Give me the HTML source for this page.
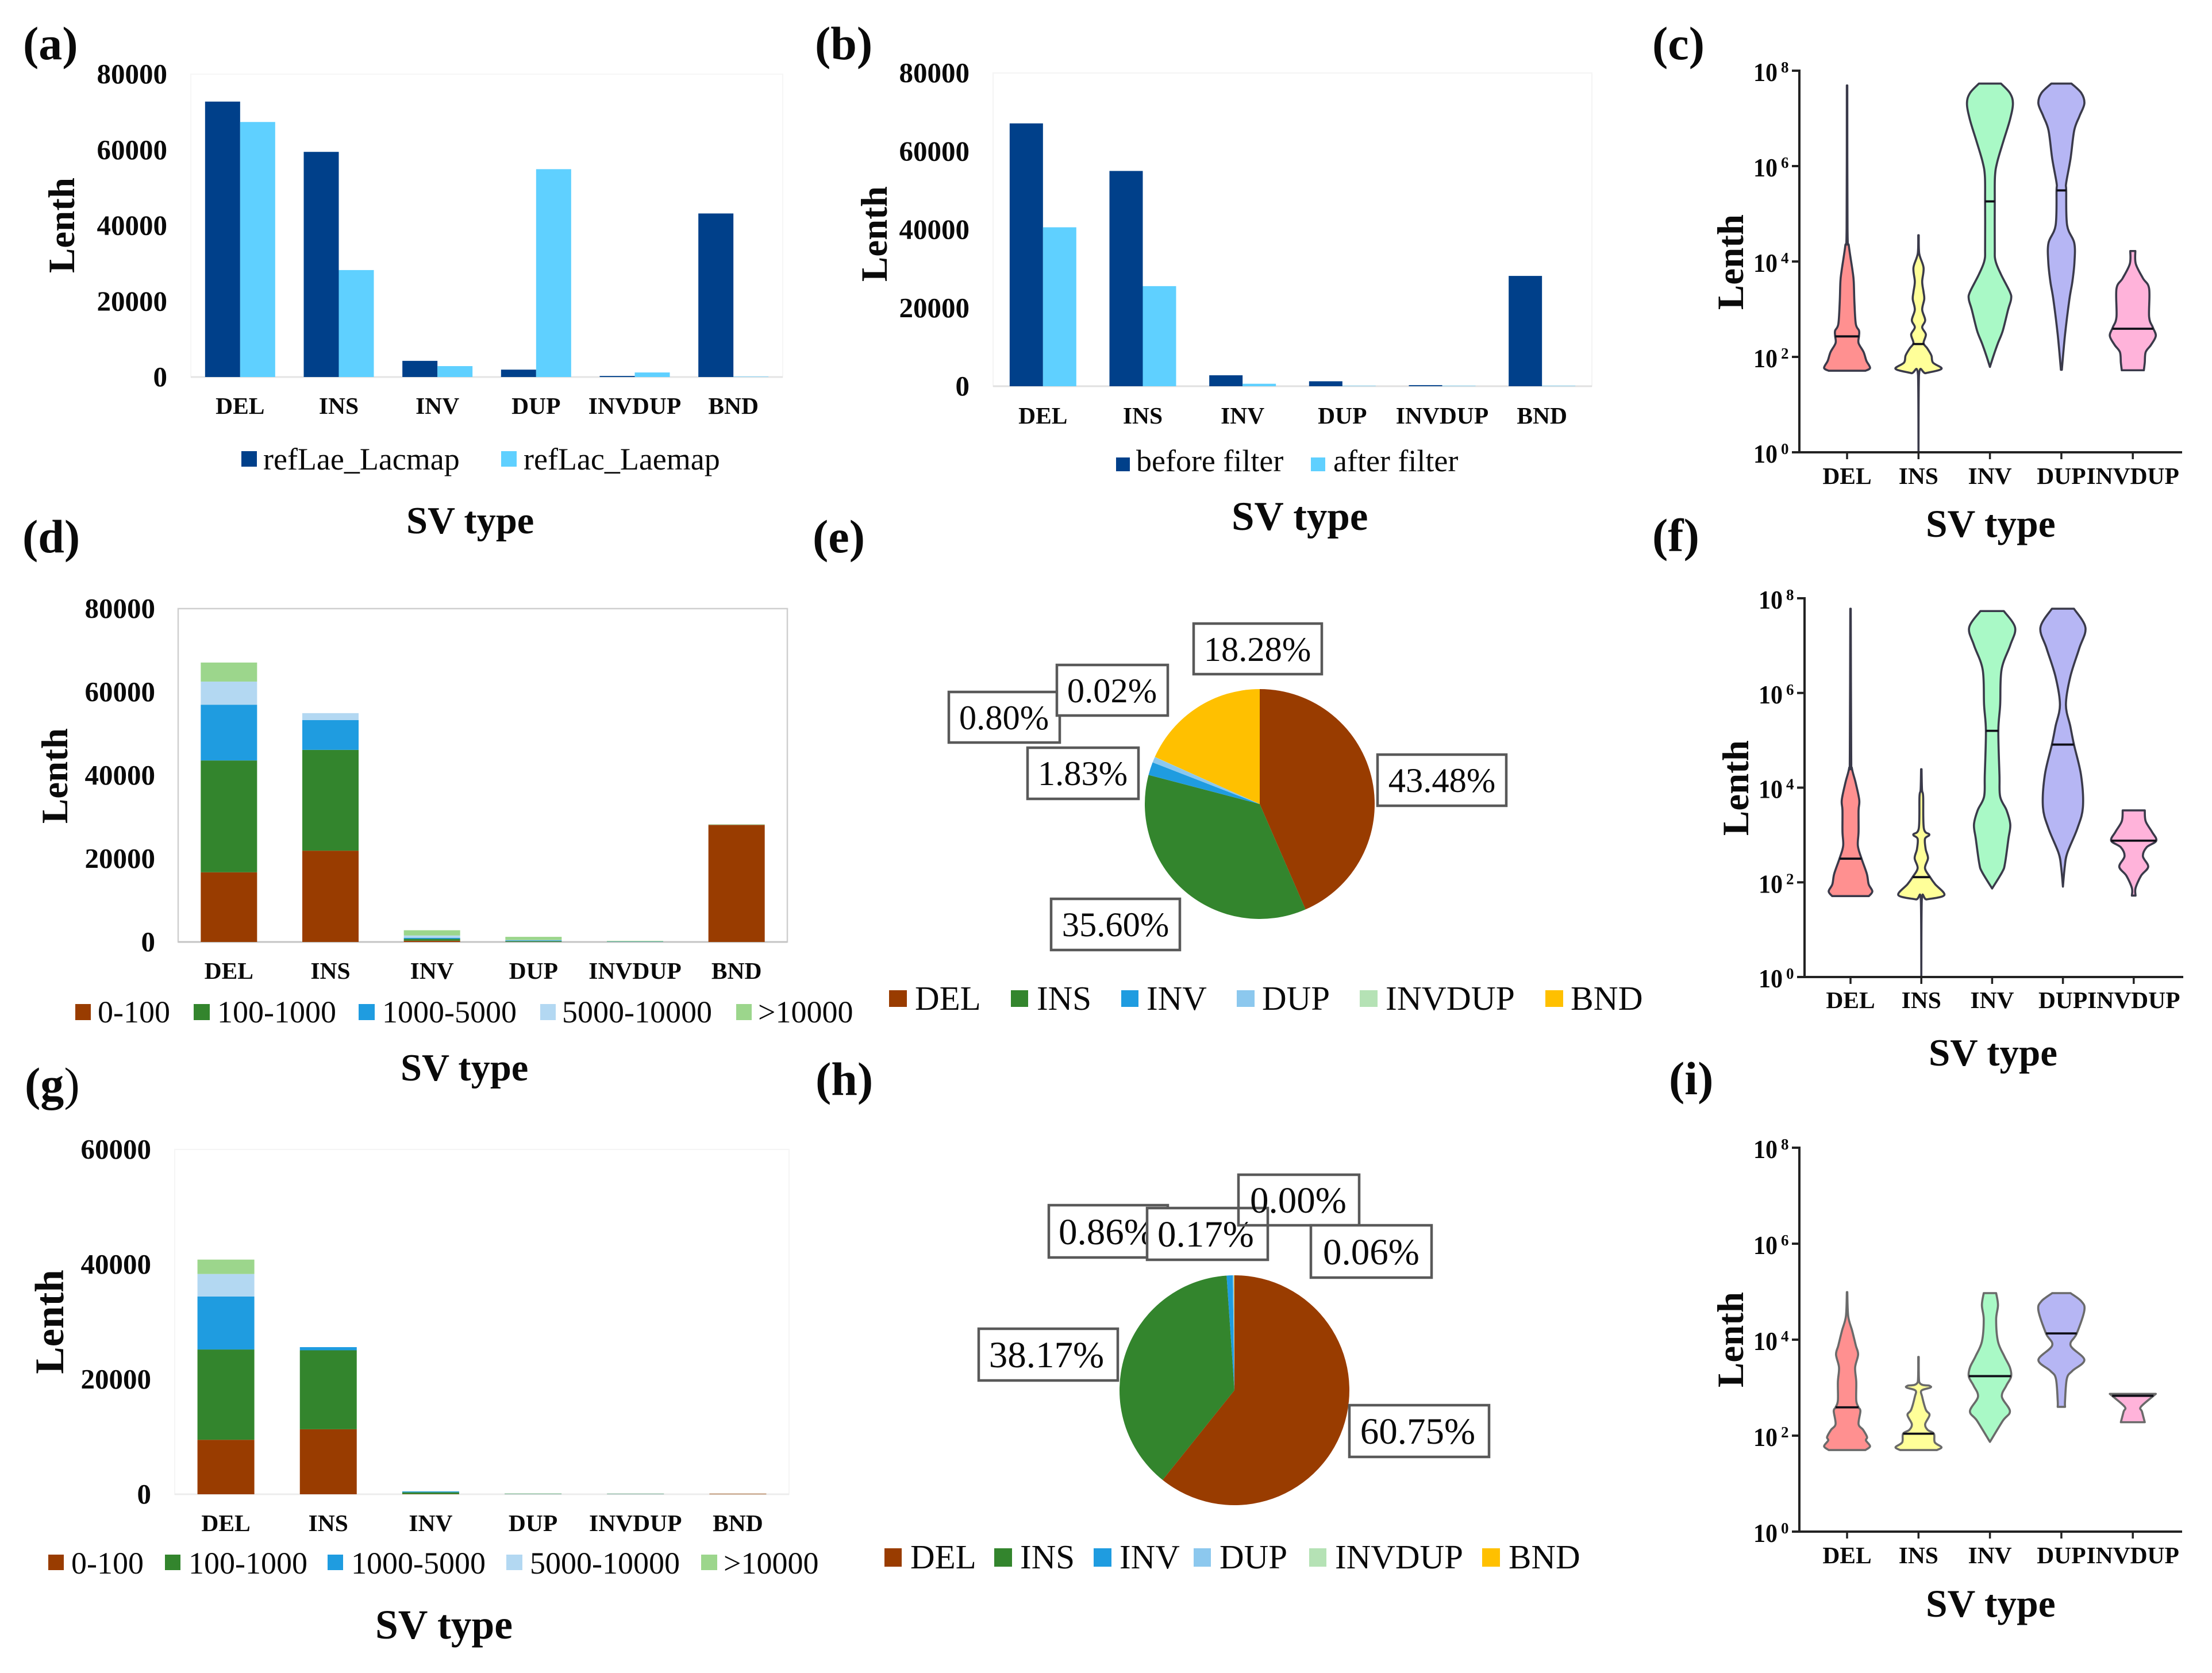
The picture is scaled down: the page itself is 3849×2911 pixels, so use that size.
<!DOCTYPE html>
<html lang="en">
<head>
<meta charset="utf-8">
<title>SV length and type panels</title>
<style>
html,body{margin:0;padding:0;background:#fff;}
svg{display:block;}
text{font-family:"Liberation Serif",serif;fill:#0a0a0a;}
.pl{font-size:82px;font-weight:bold;}
.yt{font-size:65px;font-weight:bold;text-anchor:middle;}
.xt{font-weight:bold;}
.lg{font-size:54px;}
.box{fill:#fff;stroke:#595959;stroke-width:4.5;}
.bt{text-anchor:middle;}
</style>
</head>
<body>
<svg id="figure" xmlns="http://www.w3.org/2000/svg" width="3849" height="2911" viewBox="0 0 3849 2911">
<rect x="0" y="0" width="3849" height="2911" fill="#fff"/>

<g id="panel-a"></g>
<g id="panel-b"></g>
<g id="panel-c"></g>
<g id="panel-d"></g>
<g id="panel-e"></g>
<g id="panel-f"></g>
<g id="panel-g"></g>
<g id="panel-h"></g>
<g id="panel-i"></g>

<!-- panel letters -->
<text class="pl" x="40" y="103">(a)</text>
<text class="pl" x="1418" y="103">(b)</text>
<text class="pl" x="2875" y="103">(c)</text>
<text class="pl" x="39" y="961">(d)</text>
<text class="pl" x="1414" y="961">(e)</text>
<text class="pl" x="2875" y="959">(f)</text>
<text class="pl" x="43" y="1914">(g<tspan font-weight="normal">)</tspan></text>
<text class="pl" x="1419" y="1905">(h)</text>
<text class="pl" x="2904" y="1904">(i)</text>

<!-- y-axis titles -->
<text class="yt" transform="translate(129 392) rotate(-90)">Lenth</text>
<text class="yt" transform="translate(1543 407) rotate(-90)">Lenth</text>
<text class="yt" transform="translate(3033 456) rotate(-90)">Lenth</text>
<text class="yt" transform="translate(117 1350) rotate(-90)">Lenth</text>
<text class="yt" transform="translate(3042 1371) rotate(-90)">Lenth</text>
<text class="yt" style="font-size:71px" transform="translate(110 2300) rotate(-90)">Lenth</text>
<text class="yt" transform="translate(3033 2331) rotate(-90)">Lenth</text>

<!-- x-axis titles -->
<text class="xt" x="707" y="928" font-size="66.5">SV type</text>
<text class="xt" x="2143" y="922" font-size="71">SV type</text>
<text class="xt" x="3351" y="934" font-size="67.5">SV type</text>
<text class="xt" x="697" y="1880" font-size="66.5">SV type</text>
<text class="xt" x="3356" y="1854" font-size="67">SV type</text>
<text class="xt" x="653" y="2851" font-size="71.5">SV type</text>
<text class="xt" x="3351" y="2813" font-size="67.5">SV type</text>

<!-- legend a -->
<g>
<rect x="420" y="785" width="27" height="27" fill="#00408a"/>
<text class="lg" x="458" y="817">refLae_Lacmap</text>
<rect x="872" y="785" width="27" height="27" fill="#5fd0ff"/>
<text class="lg" x="911" y="817">refLac_Laemap</text>
</g>
<!-- legend b -->
<g>
<rect x="1942" y="796" width="24" height="24" fill="#00408a"/>
<text class="lg" style="font-size:54px" x="1977" y="820">before filter</text>
<rect x="2281" y="796" width="25" height="24" fill="#5fd0ff"/>
<text class="lg" style="font-size:54px" x="2320" y="820">after filter</text>
</g>
<!-- legend d -->
<g>
<rect x="131" y="1747" width="27" height="28" fill="#993c00"/>
<text class="lg" x="170" y="1779">0-100</text>
<rect x="337" y="1747" width="28" height="28" fill="#33852d"/>
<text class="lg" x="378" y="1779">100-1000</text>
<rect x="624" y="1747" width="28" height="28" fill="#1f9ce0"/>
<text class="lg" x="665" y="1779">1000-5000</text>
<rect x="940" y="1747" width="27" height="28" fill="#b3d8f2"/>
<text class="lg" x="978" y="1779">5000-10000</text>
<rect x="1281" y="1747" width="27" height="28" fill="#9cd68c"/>
<text class="lg" x="1319" y="1779">&gt;10000</text>
</g>
<!-- legend g -->
<g>
<rect x="84" y="2705" width="27" height="27" fill="#993c00"/>
<text class="lg" x="124" y="2738">0-100</text>
<rect x="287" y="2705" width="27" height="27" fill="#33852d"/>
<text class="lg" x="328" y="2738">100-1000</text>
<rect x="570" y="2705" width="27" height="27" fill="#1f9ce0"/>
<text class="lg" x="611" y="2738">1000-5000</text>
<rect x="881" y="2705" width="28" height="27" fill="#b3d8f2"/>
<text class="lg" x="922" y="2738">5000-10000</text>
<rect x="1220" y="2705" width="28" height="27" fill="#9cd68c"/>
<text class="lg" x="1259" y="2738">&gt;10000</text>
</g>
<!-- legend e -->
<g>
<rect x="1547" y="1723" width="31" height="29" fill="#993c00"/>
<text class="lg" style="font-size:59px" x="1592" y="1757">DEL</text>
<rect x="1759" y="1723" width="30" height="29" fill="#33852d"/>
<text class="lg" style="font-size:59px" x="1804" y="1757">INS</text>
<rect x="1951" y="1723" width="30" height="29" fill="#1f9ce0"/>
<text class="lg" style="font-size:59px" x="1995" y="1757">INV</text>
<rect x="2152" y="1723" width="31" height="29" fill="#8cc8ee"/>
<text class="lg" style="font-size:59px" x="2196" y="1757">DUP</text>
<rect x="2366" y="1723" width="31" height="29" fill="#b5e2b5"/>
<text class="lg" style="font-size:59.5px" x="2411" y="1757">INVDUP</text>
<rect x="2689" y="1723" width="31" height="29" fill="#ffc000"/>
<text class="lg" style="font-size:59.5px" x="2733" y="1757">BND</text>
</g>
<!-- legend h -->
<g>
<rect x="1539" y="2694" width="30" height="32" fill="#993c00"/>
<text class="lg" style="font-size:59px" x="1584" y="2729">DEL</text>
<rect x="1730" y="2694" width="31" height="32" fill="#33852d"/>
<text class="lg" style="font-size:59px" x="1775" y="2729">INS</text>
<rect x="1903" y="2694" width="31" height="32" fill="#1f9ce0"/>
<text class="lg" style="font-size:59px" x="1948" y="2729">INV</text>
<rect x="2077" y="2694" width="30" height="32" fill="#8cc8ee"/>
<text class="lg" style="font-size:59px" x="2122" y="2729">DUP</text>
<rect x="2278" y="2694" width="30" height="32" fill="#b5e2b5"/>
<text class="lg" style="font-size:59px" x="2323" y="2729">INVDUP</text>
<rect x="2579" y="2694" width="31" height="32" fill="#ffc000"/>
<text class="lg" style="font-size:59px" x="2625" y="2729">BND</text>
</g>

<!-- pie e value boxes -->
<g>
<rect class="box" x="2077" y="1085" width="223" height="88"/>
<text id="pie-e-label-5" class="bt" x="2188" y="1150" font-size="60.5">18.28%</text>
<rect class="box" x="1651" y="1204" width="193" height="88"/>
<text id="pie-e-label-3" class="bt" x="1747" y="1269" font-size="60.5">0.80%</text>
<rect class="box" x="1839" y="1157" width="193" height="88"/>
<text id="pie-e-label-4" class="bt" x="1935" y="1222" font-size="60.5">0.02%</text>
<rect class="box" x="1788" y="1301" width="193" height="89"/>
<text id="pie-e-label-2" class="bt" x="1884" y="1366" font-size="60.5">1.83%</text>
<rect class="box" x="2397" y="1313" width="224" height="89"/>
<text id="pie-e-label-0" class="bt" x="2509" y="1378" font-size="60.5">43.48%</text>
<rect class="box" x="1829" y="1564" width="224" height="89"/>
<text id="pie-e-label-1" class="bt" x="1941" y="1629" font-size="60.5">35.60%</text>
</g>
<!-- pie h value boxes -->
<g>
<rect class="box" x="1825" y="2097" width="207" height="91"/>
<text id="pie-h-label-2" class="bt" x="1926" y="2165" font-size="65">0.86%</text>
<rect class="box" x="1996" y="2102" width="210" height="90"/>
<text id="pie-h-label-3" class="bt" x="2098" y="2169" font-size="65">0.17%</text>
<rect class="box" style="fill:none" x="2155" y="2044" width="210" height="88"/>
<text id="pie-h-label-4" class="bt" x="2259" y="2110" font-size="65">0.00%</text>
<rect class="box" x="2281" y="2132" width="210" height="91"/>
<text id="pie-h-label-5" class="bt" x="2386" y="2200" font-size="65">0.06%</text>
<rect class="box" x="1703" y="2312" width="242" height="90"/>
<text id="pie-h-label-1" class="bt" x="1821" y="2379" font-size="65">38.17%</text>
<rect class="box" x="2348" y="2445" width="243" height="90"/>
<text id="pie-h-label-0" class="bt" x="2467" y="2512" font-size="65">60.75%</text>
</g>
</svg>

<script>
// ---- shared categories and tick labels ----
const barCategories = ['DEL','INS','INV','DUP','INVDUP','BND'];
const violinCategories = ['DEL','INS','INV','DUP','INVDUP'];
const ticks80k = [0,20000,40000,60000,80000];
const ticks60k = [0,20000,40000,60000];
const logTicks = [0,2,4,6,8];

// ---- panel a ----
const aRefLaeLacmap = [72750,59470,4270,1950,280,43200];
const aRefLacLaemap = [67360,28250,2880,54900,1200,100];
// ---- panel b ----
const bBeforeFilter = [67130,54980,2790,1260,270,28170];
const bAfterFilter = [40590,25560,630,90,90,90];
// ---- panel d (stack order bottom to top) ----
const d0to100 = [16720,21910,300,30,10,28100];
const d100to1000 = [26840,24190,450,190,40,0];
const d1000to5000 = [13380,7140,250,150,60,0];
const d5000to10000 = [5550,1680,550,100,40,50];
const dOver10000 = [4570,0,1260,760,120,100];
// ---- panel g ----
const g0to100 = [9480,11310,40,20,20,90];
const g100to1000 = [15710,13740,300,30,30,0];
const g1000to5000 = [9210,550,150,30,30,0];
const g5000to10000 = [3930,0,30,30,20,0];
const gOver10000 = [2500,0,20,40,20,10];
// ---- pies ----
const pieCategories = ['DEL','INS','INV','DUP','INVDUP','BND'];
const pieEPercent = [43.48,35.60,1.83,0.80,0.02,18.28];
const pieHPercent = [60.75,38.17,0.86,0.17,0.00,0.06];
// ---- violins: [log10 length, relative density], top to bottom ----
const cDel = [[7.69,.01],[4.69,.02],[4.32,.08],[3.8,.24],[3.58,.29],[3.14,.32],[2.69,.38],[2.55,.52],[2.44,.52],[2.29,.5],[2.1,.72],[1.92,.84],[1.77,1],[1.71,.8]];
const cIns = [[4.55,.01],[4.17,.03],[3.87,.22],[3.58,.16],[3.36,.22],[3.21,.25],[2.99,.16],[2.77,.29],[2.62,.16],[2.47,.32],[2.29,.22],[2.18,.38],[2.03,.56],[1.88,.63],[1.75,1],[1.66,.32],[1.62,.02],[0,0]];
const cInv = [[7.73,.48],[7.53,.87],[7.31,1],[6.97,.87],[6.53,.59],[6.09,.32],[5.79,.22],[5.26,.21],[4.32,.21],[4.02,.24],[3.73,.48],[3.36,.87],[3.21,.92],[2.99,.79],[2.55,.56],[2.29,.35],[2.03,.16],[1.79,0]];
const cDup = [[7.73,.44],[7.53,.87],[7.31,1],[7.05,.79],[6.75,.56],[6.16,.4],[5.65,.21],[5.49,.21],[4.76,.25],[4.39,.56],[3.99,.57],[3.58,.48],[3.21,.35],[2.47,.16],[1.73,.02]];
const cInvdup = [[4.22,.11],[3.95,.13],[3.65,.44],[3.43,.71],[2.84,.71],[2.62,.87],[2.44,1],[2.25,.79],[2.1,.56],[1.88,.52],[1.72,.48]];
const cMedians = [2.43,2.27,5.26,5.49,2.59];

const fDel = [[7.78,.01],[4.71,.03],[4.41,.06],[4.11,.22],[3.74,.38],[3.52,.35],[3.07,.35],[2.77,.32],[2.5,.48],[2.18,.71],[1.96,.79],[1.81,.95],[1.71,.8]];
const fIns = [[4.39,.01],[3.96,.03],[3.81,.08],[3.14,.11],[3.01,.35],[2.92,.16],[2.7,.19],[2.51,.29],[2.3,.16],[2.11,.38],[1.96,.6],[1.73,1],[1.64,.24],[1.62,.02],[0,0]];
const fInv = [[7.73,.51],[7.38,1],[7.01,.79],[6.49,.41],[5.75,.35],[5.2,.27],[4.26,.32],[3.81,.35],[3.52,.63],[3.22,.79],[2.92,.71],[2.4,.56],[2.22,.44],[1.87,0]];
const fDup = [[7.78,.48],[7.38,.98],[6.94,.71],[6.34,.32],[5.75,.13],[5.3,.32],[4.91,.48],[4.26,.79],[3.59,.87],[3.14,.63],[2.62,.19],[2.33,.08],[1.91,0]];
const fInvdup = [[3.52,.48],[3.29,.52],[3.07,.79],[2.88,.98],[2.74,.56],[2.55,.4],[2.33,.63],[2.14,.32],[1.88,.08],[1.72,.08]];
const fMedians = [2.5,2.11,5.2,4.91,2.88];

const iDel = [[4.99,.01],[4.49,.05],[4.19,.22],[3.88,.38],[3.69,.48],[3.42,.35],[3.12,.4],[2.73,.4],[2.59,.5],[2.51,.58],[2.24,.5],[2.12,.7],[1.97,.87],[1.9,.82],[1.78,1],[1.7,.8]];
const iIns = [[3.64,.01],[3.12,.03],[3.04,.48],[3,.51],[2.94,.13],[2.81,.16],[2.54,.32],[2.43,.48],[2.24,.29],[2.12,.4],[2.04,.67],[1.86,.71],[1.76,1],[1.7,.8]];
const iInv = [[4.97,.27],[4.72,.35],[4.42,.27],[3.96,.35],[3.65,.63],[3.42,.87],[3.23,.92],[3.04,.71],[2.81,.52],[2.51,.87],[2.31,.56],[1.87,0]];
const iDup = [[4.97,.4],[4.8,.87],[4.61,1],[4.13,.67],[3.88,.4],[3.58,1],[3.35,.48],[3.19,.24],[2.73,.16],[2.6,.16]];
const iInvdup = [[2.87,1],[2.83,.9],[2.6,.35],[2.5,.4],[2.28,.52]];
const iMedians = [2.59,2.04,3.24,4.13,2.83];

// ---- styling ----
const DARK_BLUE = '#00408a', LIGHT_BLUE = '#5fd0ff';
const stackColours = ['#993c00','#33852d','#1f9ce0','#b3d8f2','#9cd68c'];
const pieColours = ['#993c00','#33852d','#1f9ce0','#8cc8ee','#b5e2b5','#ffc000'];
const violinColours = ['#ff9090','#ffff99','#a9f9c6','#b6b6f4','#ffb3da'];

const NS = 'http://www.w3.org/2000/svg';
function node(parent, tag, attrs, txt){
  const el = document.createElementNS(NS, tag);
  for (const k in attrs) el.setAttribute(k, attrs[k]);
  if (txt !== undefined) el.textContent = txt;
  parent.appendChild(el);
  return el;
}

function barFrame(g, L, cats, ticks){
  const y = v => L.zero - v / L.max * (L.zero - L.top);
  const step = (L.right - L.left) / cats.length;
  const x = i => L.left + step * (i + 0.5);
  const frame = node(g, 'rect', {x:L.left, y:L.top, width:L.right-L.left, height:L.zero-L.top, fill:'none', stroke:L.frame, 'stroke-width':L.frameW});
  
  
  const base = node(g, 'line', {x1:L.left, x2:L.right, y1:L.zero, y2:L.zero, stroke:L.base, 'stroke-width':3});
  
  
  ticks.forEach(t => {
    const lab = node(g, 'text', {x:L.tickRight, y:y(t)+16, 'text-anchor':'end', 'font-size':49, 'font-weight':'bold'}, String(t));
    
    
  });
  cats.forEach((c, i) => {
    const lab = node(g, 'text', {x:x(i), y:L.catBase, 'text-anchor':'middle', 'font-size':41.5, 'font-weight':'bold'}, c);
    
    
  });
  return {x, y};
}

function drawGrouped(id, L, s1, s2, name1, name2){
  const g = document.getElementById(id);
  const {x, y} = barFrame(g, L, barCategories, ticks80k);
  barCategories.forEach((c, i) => {
    const a = node(g, 'rect', {x:x(i)-L.barW, y:y(s1[i]), width:L.barW, height:L.zero-y(s1[i]), fill:DARK_BLUE});
    
    
    const b = node(g, 'rect', {x:x(i), y:y(s2[i]), width:L.barW, height:L.zero-y(s2[i]), fill:LIGHT_BLUE});
    
    
  });
}

function drawStacked(id, L, stacks, ticks){
  const g = document.getElementById(id);
  const {x, y} = barFrame(g, L, barCategories, ticks);
  const rangeNames = ['0-100','100-1000','1000-5000','5000-10000','over-10000'];
  barCategories.forEach((c, i) => {
    let sum = 0;
    stacks.forEach((s, k) => {
      const top = sum + s[i];
      if (s[i] > 0) {
        const r = node(g, 'rect', {x:x(i)-L.barW/2, y:y(top), width:L.barW, height:y(sum)-y(top), fill:stackColours[k]});
        
        
      }
      sum = top;
    });
  });
}

function drawPie(id, values, cx, cy, r){
  const g = document.getElementById(id);
  const total = values.reduce((a, b) => a + b, 0);
  let acc = 0;
  values.forEach((v, i) => {
    const a0 = acc / total * 2 * Math.PI - Math.PI / 2;
    acc += v;
    const a1 = acc / total * 2 * Math.PI - Math.PI / 2;
    if (v > 0) {
      const large = (a1 - a0) > Math.PI ? 1 : 0;
      const d = 'M' + cx + ' ' + cy + 'L' + (cx + r * Math.cos(a0)) + ' ' + (cy + r * Math.sin(a0)) +
        'A' + r + ' ' + r + ' 0 ' + large + ' 1 ' + (cx + r * Math.cos(a1)) + ' ' + (cy + r * Math.sin(a1)) + 'Z';
      const p = node(g, 'path', {d:d, fill:pieColours[i]});
      
      
    }
    const lab = document.getElementById(id.replace('panel', 'pie') + '-label-' + i);
    if (lab) lab.textContent = v.toFixed(2) + '%';
  });
}

function widthAt(profile, v){
  for (let i = 0; i < profile.length - 1; i++) {
    const a = profile[i], b = profile[i + 1];
    if (v <= a[0] && v >= b[0]) {
      const t = (a[0] - v) / ((a[0] - b[0]) || 1);
      return a[1] + (b[1] - a[1]) * t;
    }
  }
  return 0;
}

// Catmull-Rom through the profile edge; control points never cross the centre line
function smoothEdge(pts, cx, sign){
  const clampX = px => sign > 0 ? Math.max(px, cx) : Math.min(px, cx);
  let d = '';
  for (let i = 0; i < pts.length - 1; i++) {
    const p0 = pts[Math.max(i - 1, 0)], p1 = pts[i], p2 = pts[i + 1], p3 = pts[Math.min(i + 2, pts.length - 1)];
    const c1x = clampX(p1[0] + (p2[0] - p0[0]) / 6), c1y = p1[1] + (p2[1] - p0[1]) / 6;
    const c2x = clampX(p2[0] - (p3[0] - p1[0]) / 6), c2y = p2[1] - (p3[1] - p1[1]) / 6;
    d += 'C' + c1x + ' ' + c1y + ' ' + c2x + ' ' + c2y + ' ' + p2[0] + ' ' + p2[1];
  }
  return d;
}

function drawViolins(id, L, profiles, medians){
  const g = document.getElementById(id);
  const y = v => L.bottom - v / 8 * (L.bottom - L.top);
  const x = i => L.first + L.step * i;
  const HW = 40;
  profiles.forEach((prof, i) => {
    const name = violinCategories[i].toLowerCase();
    const right = prof.map(p => [x(i) + p[1] * HW, y(p[0])]);
    const left = prof.slice().reverse().map(p => [x(i) - p[1] * HW, y(p[0])]);
    const d = 'M' + right[0][0] + ' ' + right[0][1] + smoothEdge(right, x(i), 1) +
      'L' + left[0][0] + ' ' + left[0][1] + smoothEdge(left, x(i), -1) + 'Z';
    const body = node(g, 'path', {d:d, fill:violinColours[i], stroke:L.outline, 'stroke-width':3.6, 'stroke-linejoin':'round'});
    
    
    const w = widthAt(prof, medians[i]) * HW;
    const med = node(g, 'line', {x1:x(i)-w, x2:x(i)+w, y1:y(medians[i]), y2:y(medians[i]), stroke:'#101018', 'stroke-width':3.8});
    
    
  });
  const yAxis = node(g, 'line', {x1:L.axis, x2:L.axis, y1:L.top-2, y2:L.bottom+2, stroke:'#222', 'stroke-width':4});
  
  
  const xAxis = node(g, 'line', {x1:L.axis-13, x2:L.xEnd, y1:L.bottom, y2:L.bottom, stroke:'#222', 'stroke-width':4});
  
  
  logTicks.forEach(t => {
    const tick = node(g, 'line', {x1:L.axis-13, x2:L.axis, y1:y(t), y2:y(t), stroke:'#222', 'stroke-width':4});
    
    
    const base = node(g, 'text', {x:L.axis-80, y:y(t)+18, 'font-size':46, 'font-weight':'bold', textLength:42, lengthAdjust:'spacingAndGlyphs'}, '10');
    
    
    const sup = node(g, 'text', {x:L.axis-32, y:y(t)+3, 'font-size':27, 'font-weight':'bold'}, String(t));
    
    
  });
  violinCategories.forEach((c, i) => {
    const tick = node(g, 'line', {x1:x(i), x2:x(i), y1:L.bottom, y2:L.bottom+12, stroke:'#222', 'stroke-width':3.5});
    
    
    const lab = node(g, 'text', {x:x(i), y:L.catBase, 'text-anchor':'middle', 'font-size':41.5, 'font-weight':'bold'}, c);
    
    
  });
}

drawGrouped('panel-a', {left:332,right:1362,top:129,zero:656,max:80000,barW:61,tickRight:291,catBase:720,frame:'#f6f6f6',frameW:2,base:'#e4e4e4'}, aRefLaeLacmap, aRefLacLaemap, 'reflae-lacmap', 'reflac-laemap');
drawGrouped('panel-b', {left:1728,right:2770,top:127,zero:672,max:80000,barW:58,tickRight:1687,catBase:737,frame:'#f4f4f4',frameW:2,base:'#e0e0e0'}, bBeforeFilter, bAfterFilter, 'before-filter', 'after-filter');
drawViolins('panel-c', {axis:3131,top:123,bottom:787,xEnd:3797,first:3214,step:124.3,catBase:842,outline:'#3a3a4a'}, [cDel,cIns,cInv,cDup,cInvdup], cMedians);
drawStacked('panel-d', {left:310,right:1370,top:1059,zero:1639,max:80000,barW:98,tickRight:270,catBase:1703,frame:'#cfcfcf',frameW:2.5,base:'#c4c4c4'}, [d0to100,d100to1000,d1000to5000,d5000to10000,dOver10000], ticks80k);
drawPie('panel-e', pieEPercent, 2192, 1399, 200);
drawViolins('panel-f', {axis:3140,top:1041,bottom:1700,xEnd:3799,first:3220,step:123.2,catBase:1754,outline:'#3a3a4a'}, [fDel,fIns,fInv,fDup,fInvdup], fMedians);
drawStacked('panel-g', {left:304,right:1373,top:2000,zero:2600,max:60000,barW:99,tickRight:263,catBase:2664,frame:'#f5f5f5',frameW:2,base:'#ececec'}, [g0to100,g100to1000,g1000to5000,g5000to10000,gOver10000], ticks60k);
drawPie('panel-h', pieHPercent, 2148, 2419, 200);
drawViolins('panel-i', {axis:3131,top:1997,bottom:2665,xEnd:3797,first:3214,step:124.3,catBase:2720,outline:'#6a6a6a'}, [iDel,iIns,iInv,iDup,iInvdup], iMedians);
</script>
</body>
</html>
